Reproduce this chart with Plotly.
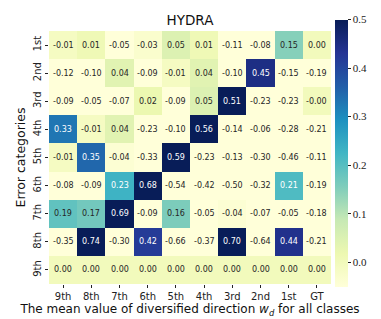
import plotly.graph_objects as go

title = "HYDRA"
x_labels = ["9th", "8th", "7th", "6th", "5th", "4th", "3rd", "2nd", "1st", "GT"]
y_labels = ["1st", "2nd", "3rd", "4th", "5th", "6th", "7th", "8th", "9th"]

row_1st = [-0.01, 0.01, -0.05, -0.03, 0.05, 0.01, -0.11, -0.08, 0.15, 0.00]
row_2nd = [-0.12, -0.10, 0.04, -0.09, -0.01, 0.04, -0.10, 0.45, -0.15, -0.19]
row_3rd = [-0.09, -0.05, -0.07, 0.02, -0.09, 0.05, 0.51, -0.23, -0.23, -0.0]
row_4th = [0.33, -0.01, 0.04, -0.23, -0.10, 0.56, -0.14, -0.06, -0.28, -0.21]
row_5th = [-0.01, 0.35, -0.04, -0.33, 0.59, -0.23, -0.13, -0.30, -0.46, -0.11]
row_6th = [-0.08, -0.09, 0.23, 0.68, -0.54, -0.42, -0.50, -0.32, 0.21, -0.19]
row_7th = [0.19, 0.17, 0.69, -0.09, 0.16, -0.05, -0.04, -0.07, -0.05, -0.18]
row_8th = [-0.35, 0.74, -0.30, 0.42, -0.66, -0.37, 0.70, -0.64, 0.44, -0.21]
row_9th = [0.00, 0.00, 0.00, 0.00, 0.00, 0.00, 0.00, 0.00, 0.00, 0.00]

z = [row_1st, row_2nd, row_3rd, row_4th, row_5th, row_6th, row_7th, row_8th, row_9th]

zmin, zmax = -0.05, 0.5
ylgnbu = ["#ffffd9", "#edf8b1", "#c7e9b4", "#7fcdbb", "#41b6c4",
          "#1d91c0", "#225ea8", "#253494", "#081d58"]
colorscale = [[i / (len(ylgnbu) - 1), c] for i, c in enumerate(ylgnbu)]
cbar_ticks = [0.0, 0.1, 0.2, 0.3, 0.4, 0.5]

W, H = 381, 319
L, R, T, B = 41, 58, 23, 43
plot_w = W - L - R
plot_h = H - T - B

fig = go.Figure()
fig.add_trace(go.Heatmap(
    z=z, x=x_labels, y=y_labels,
    zmin=zmin, zmax=zmax, colorscale=colorscale,
    xgap=0, ygap=0,
    hoverinfo="skip",
    colorbar=dict(
        x=(327 - L) / plot_w, xanchor="left", xpad=0,
        y=(H - B - 145) / plot_h, yanchor="middle", ypad=0,
        lenmode="pixels", len=267,
        thicknessmode="pixels", thickness=13,
        outlinewidth=0,
        tickmode="array",
        tickvals=cbar_ticks,
        ticktext=[f"{t:.1f}" for t in cbar_ticks],
        ticklabeloverflow="allow",
        ticks="outside", ticklen=3, tickwidth=1, tickcolor="#222",
        tickfont=dict(family="Liberation Serif", size=11, color="#222"),
    ),
))

annotations = []
for i, row in enumerate(z):
    for j, v in enumerate(row):
        annotations.append(dict(
            x=x_labels[j], y=y_labels[i], xref="x", yref="y",
            text=f"{v:.2f}", showarrow=False,
            font=dict(family="DejaVu Sans", size=8,
                      color="white" if v > 0.2 else "#262626"),
        ))

fig.update_layout(
    width=W, height=H,
    margin=dict(l=L, r=R, t=T, b=B, autoexpand=False),
    paper_bgcolor="white", plot_bgcolor="white",
    title=dict(text=title, x=(L + plot_w / 2) / W, xanchor="center",
               y=1 - 12 / H, yanchor="middle",
               font=dict(family="DejaVu Sans", size=13.5, color="#111")),
    annotations=annotations,
    xaxis=dict(
        tickfont=dict(family="DejaVu Sans", size=10, color="#222"),
        ticks="outside", ticklen=3, tickcolor="#222",
        showgrid=False, zeroline=False,
        title=dict(text="The mean value of diversified direction <i>w</i><sub><i>d</i></sub> for all classes",
                   font=dict(family="DejaVu Sans", size=12, color="#111"), standoff=1),
    ),
    yaxis=dict(
        autorange="reversed",
        tickfont=dict(family="DejaVu Sans", size=10, color="#222"),
        tickangle=-90,
        ticks="outside", ticklen=3, tickcolor="#222",
        showgrid=False, zeroline=False,
        title=dict(text="Error categories",
                   font=dict(family="DejaVu Sans", size=12.5, color="#111"), standoff=3),
    ),
)

fig.write_html("out.html")
